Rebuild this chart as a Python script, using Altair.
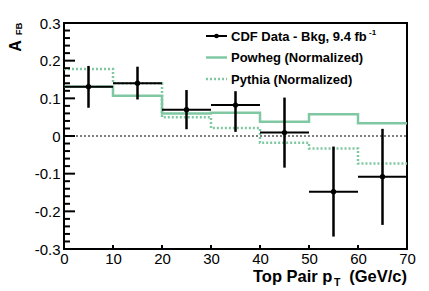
import altair as alt
import pandas as pd
import numpy as np

# ---- data ----
bin_lo = [0, 10, 20, 30, 40, 50, 60]
bin_hi = [10, 20, 30, 40, 50, 60, 70]
bin_center = [5, 15, 25, 35, 45, 55, 65]
data_afb = [0.131, 0.140, 0.070, 0.082, 0.009, -0.148, -0.108]
data_err_high = [0.186, 0.184, 0.122, 0.119, 0.102, -0.028, 0.019]
data_err_low = [0.075, 0.097, 0.018, 0.011, -0.084, -0.267, -0.236]
powheg = [0.131, 0.107, 0.060, 0.062, 0.038, 0.058, 0.034]
pythia = [0.178, 0.140, 0.050, 0.021, -0.018, -0.033, -0.073]
x_ticks = [0, 10, 20, 30, 40, 50, 60, 70]
y_ticks = [-0.3, -0.2, -0.1, 0.0, 0.1, 0.2, 0.3]
y_minor = [v for v in np.round(np.arange(-0.3, 0.3001, 0.02), 2).tolist()
           if all(abs(v - m) > 1e-6 for m in y_ticks)]
x_major_inner = [10, 20, 30, 40, 50, 60]

GREEN = "#80c8a2"
FONT = "Liberation Sans"
W, H = 343, 226

df_data = pd.DataFrame({"lo": bin_lo, "hi": bin_hi, "c": bin_center,
                        "y": data_afb, "ylo": data_err_low, "yhi": data_err_high})
edges = bin_lo + [bin_hi[-1]]
df_pow = pd.DataFrame({"x": edges, "y": powheg + [powheg[-1]]})
df_pyt = pd.DataFrame({"x": edges, "y": pythia + [pythia[-1]]})

xs = alt.Scale(domain=[0, 70], nice=False, zero=False)
ys = alt.Scale(domain=[-0.3, 0.3], nice=False, zero=False)
x_axis = alt.Axis(values=x_ticks, domain=False, ticks=False, grid=False, title=None,
                  labelFontSize=15, labelFont=FONT, labelColor="black", labelPadding=2,
                  labelFlush=False, labelOverlap=False)
y_axis = alt.Axis(values=y_ticks, domain=False, ticks=False, grid=False, title=None,
                  labelFontSize=15, labelFont=FONT, labelColor="black", labelPadding=4,
                  labelFlush=False, labelOverlap=False,
                  labelExpr="datum.value == 0 ? '0' : (datum.value < 0 ? '-' : '') + format(abs(datum.value), '.1f')")

def X(f):
    return alt.X(f, type="quantitative", scale=xs, axis=x_axis)

def Y(f):
    return alt.Y(f, type="quantitative", scale=ys, axis=y_axis)

zero = alt.Chart(pd.DataFrame({"y": [0.0]})).mark_rule(
    color="black", strokeWidth=1, strokeDash=[2, 2]).encode(
    y=Y("y"), x=alt.value(0), x2=alt.value(W))

pyt = alt.Chart(df_pyt).mark_line(interpolate="step-after", color=GREEN,
                                  strokeWidth=2.5, strokeDash=[2, 2]).encode(x=X("x"), y=Y("y"))
pow_ = alt.Chart(df_pow).mark_line(interpolate="step-after", color=GREEN,
                                   strokeWidth=2.5).encode(x=X("x"), y=Y("y"))

xerr = alt.Chart(df_data).mark_rule(color="black", strokeWidth=2).encode(
    x=X("lo"), x2="hi", y=Y("y"))
yerr = alt.Chart(df_data).mark_rule(color="black", strokeWidth=2.5).encode(
    x=X("c"), y=Y("ylo"), y2="yhi")
pts = alt.Chart(df_data).mark_circle(color="black", size=28, opacity=1).encode(
    x=X("c"), y=Y("y"))

# inward ticks (ROOT style)
ymaj = alt.Chart(pd.DataFrame({"v": y_ticks})).mark_rule(color="black", strokeWidth=2).encode(
    y=Y("v"), x=alt.value(0), x2=alt.value(11))
ymin = alt.Chart(pd.DataFrame({"v": y_minor})).mark_rule(color="black", strokeWidth=2).encode(
    y=Y("v"), x=alt.value(0), x2=alt.value(6))
xmaj = alt.Chart(pd.DataFrame({"v": x_major_inner})).mark_rule(color="black", strokeWidth=2).encode(
    x=X("v"), y=alt.value(H), y2=alt.value(H - 4))

one = pd.DataFrame({"a": [0]})

def txt(s, x, y, size, bold=True, align="left", baseline="alphabetic", angle=0):
    return alt.Chart(one).mark_text(text=s, font=FONT, fontSize=size,
                                    fontWeight="bold" if bold else "normal",
                                    align=align, baseline=baseline, angle=angle,
                                    color="black").encode(x=alt.value(x), y=alt.value(y))

# legend (pixel positions relative to plot origin at (64,23))
lx0, lx1, ltx = 142, 163, 167
rows = [13, 34.5, 56]
leg_data = alt.Chart(one).mark_rule(color="black", strokeWidth=2).encode(
    x=alt.value(lx0), x2=alt.value(lx1), y=alt.value(rows[0]))
leg_dot = alt.Chart(one).mark_circle(color="black", size=22, opacity=1).encode(
    x=alt.value((lx0 + lx1) / 2), y=alt.value(rows[0]))
leg_pow = alt.Chart(one).mark_rule(color=GREEN, strokeWidth=2.5).encode(
    x=alt.value(lx0), x2=alt.value(lx1), y=alt.value(rows[1]))
leg_pyt = alt.Chart(one).mark_rule(color=GREEN, strokeWidth=2.5, strokeDash=[2, 2]).encode(
    x=alt.value(lx0), x2=alt.value(lx1), y=alt.value(rows[2]))
t1 = txt("CDF Data - Bkg, 9.4  fb", ltx, rows[0] + 4.5, 13)
t1s = txt("-1", ltx + 138, rows[0] - 1, 8)
t2 = txt("Powheg (Normalized)", ltx, rows[1] + 4.5, 13)
t3 = txt("Pythia (Normalized)", ltx, rows[2] + 4.5, 13)

# axis titles
ya = txt("A", -48, 23, 16, align="center", baseline="middle", angle=270)
yfb = txt("FB", -45, 6, 9.5, align="center", baseline="middle", angle=270)
xt1 = txt("Top Pair p", 189, 259, 16.5)
xt2 = txt("T", 270, 263, 10.5)
xt3 = txt("(GeV/c)", 343, 259, 16.5, align="right")

chart = alt.layer(
    zero, pyt, pow_, xerr, yerr, pts, ymaj, ymin, xmaj,
    leg_data, leg_dot, leg_pow, leg_pyt, t1, t1s, t2, t3,
    ya, yfb, xt1, xt2, xt3
).properties(
    width=W, height=H,
    autosize=alt.AutoSizeParams(type="none"),
    padding={"left": 56, "top": 15, "right": 14, "bottom": 42},
    background="white"
).configure_view(stroke="black", strokeWidth=2)

chart.save("out.html", embed_options={"renderer": "svg", "actions": False})
